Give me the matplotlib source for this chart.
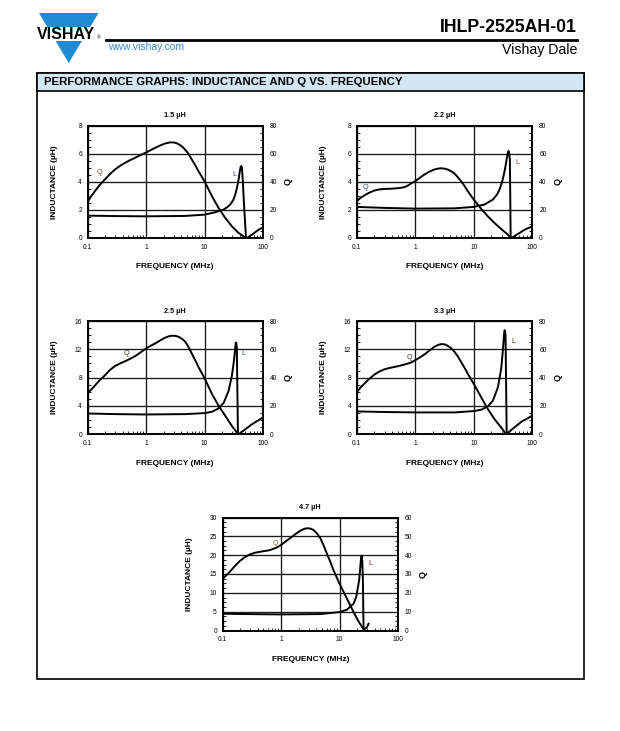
import matplotlib
matplotlib.use("Agg")
import matplotlib.pyplot as plt
from matplotlib.patches import Polygon, Rectangle
from matplotlib.lines import Line2D
from matplotlib.ticker import LogLocator, MultipleLocator, NullFormatter, FixedLocator, FixedFormatter

plt.rcParams['font.family'] = ['Liberation Sans', 'DejaVu Sans']

# ---------------- data ----------------
TITLES = ["1.5 µH", "2.2 µH", "2.5 µH", "3.3 µH", "4.7 µH"]
L_MAX = [8, 8, 16, 16, 30]
L_STEP = [2, 2, 4, 4, 5]
Q_MAX = [80, 80, 80, 80, 60]
Q_STEP = [20, 20, 20, 20, 10]
X_TICKS = [0.1, 1, 10, 100]
X_TICK_LABELS = ["0.1", "1", "10", "100"]

# 1.5 uH
Q15_F = [0.1, 0.115, 0.134, 0.16, 0.198, 0.24, 0.294, 0.36, 0.436, 0.53, 0.648, 0.8, 1.0, 1.2, 1.43, 1.75, 2.12, 2.58, 3.0, 3.35, 3.85, 4.37, 5.2, 6.07, 7.0, 7.89, 10, 13.4, 17.4, 22.6, 29.4, 38.3, 48.5, 53.2, 64.8, 84.3, 100]
Q15 = [25.5, 29.5, 33.3, 37.5, 41.6, 45.3, 48.7, 51.3, 53.4, 55.3, 57.0, 58.9, 60.8, 62.5, 64.1, 65.8, 67.2, 68.0, 67.9, 67.4, 66.0, 64.1, 60.5, 55.8, 51.5, 47.5, 40.4, 29.7, 21.4, 14.3, 8.3, 3.6, 0.7, 0.0, 2.4, 5.9, 7.6]
L15_F = [0.1, 0.3, 1.0, 4.7, 10, 15.2, 21.2, 25, 27.5, 31, 33.6, 36, 38.3, 40, 41.4, 42.5, 43.7, 45.5, 47.2, 51.2]
L15 = [1.59, 1.56, 1.54, 1.57, 1.66, 1.83, 2.02, 2.22, 2.38, 2.7, 3.09, 3.6, 4.16, 4.7, 5.05, 5.12, 5.0, 3.8, 2.5, 0.0]

# 2.2 uH
Q22_F = [0.1, 0.115, 0.134, 0.16, 0.198, 0.24, 0.294, 0.36, 0.436, 0.53, 0.648, 0.75, 0.843, 1.0, 1.2, 1.43, 1.75, 2.12, 2.5, 2.78, 3.2, 3.58, 4.1, 4.7, 5.3, 6.07, 7.0, 7.89, 10, 13.4, 17.4, 22.6, 29.4, 38.3, 43.8, 57, 74, 100]
Q22 = [26.1, 28.4, 30.2, 32.0, 33.7, 34.5, 34.9, 35.0, 35.2, 35.5, 36.1, 37.3, 38.7, 40.4, 42.8, 45.1, 47.2, 48.7, 49.4, 49.6, 49.3, 48.7, 47.5, 45.8, 43.4, 40.4, 36.8, 33.3, 27.3, 20.7, 15.4, 10.7, 6.4, 2.4, 0.0, 2.9, 5.9, 8.3]
L22_F = [0.1, 0.3, 1.0, 4.7, 10, 15.2, 21.2, 25, 27.5, 31, 33.6, 35.5, 37.3, 38.5, 39.4, 40.3, 41.4, 42.7]
L22 = [2.21, 2.14, 2.09, 2.11, 2.21, 2.38, 2.73, 3.1, 3.44, 4.1, 4.75, 5.3, 5.82, 6.1, 6.18, 6.0, 5.6, 0.0]

# 2.5 uH
Q25_F = [0.1, 0.115, 0.134, 0.16, 0.198, 0.24, 0.294, 0.36, 0.436, 0.53, 0.648, 0.8, 1.0, 1.2, 1.43, 1.75, 2.12, 2.5, 2.8, 3.2, 3.58, 4.1, 4.7, 5.3, 6.07, 7.0, 7.89, 10, 13.4, 17.4, 22.6, 29.4, 35.7, 38.3, 50, 64.8, 100]
Q25 = [28.5, 31.5, 34.4, 38.0, 41.6, 45.3, 48.2, 50.0, 51.5, 53.2, 55.1, 57.7, 60.6, 62.5, 64.1, 66.3, 68.2, 69.3, 69.6, 69.5, 68.9, 67.5, 65.3, 61.8, 57.0, 52.0, 47.5, 39.7, 28.5, 20.2, 13.1, 5.9, 1.2, 0.0, 3.6, 7.1, 11.9]
L25_F = [0.1, 0.3, 1.0, 4.7, 10, 13.4, 17.4, 21.2, 25.9, 29.4, 31.2, 32.6, 33.6, 34.3, 35.0, 35.7, 37.3]
L25 = [2.94, 2.85, 2.8, 2.85, 2.99, 3.18, 3.66, 4.42, 6.17, 8.31, 9.8, 11.16, 12.3, 12.96, 12.9, 12.1, 0.0]

# 3.3 uH
Q33_F = [0.1, 0.115, 0.134, 0.16, 0.198, 0.24, 0.294, 0.36, 0.436, 0.53, 0.648, 0.843, 1.0, 1.2, 1.43, 1.75, 2.12, 2.5, 2.8, 3.2, 3.58, 4.1, 4.7, 5.3, 6.07, 7.0, 7.89, 10, 13.4, 17.4, 22.6, 29.4, 35.7, 46.6, 64.8, 100]
Q33 = [29.7, 32.8, 35.6, 38.8, 42.0, 44.2, 45.8, 46.8, 47.5, 48.3, 49.2, 50.6, 52.3, 54.3, 56.3, 59.2, 61.8, 63.2, 63.7, 63.5, 62.5, 60.8, 58.2, 55.2, 51.1, 46.8, 42.8, 35.6, 26.1, 17.8, 10.7, 4.8, 0.0, 4.0, 8.8, 13.1]
L33_F = [0.1, 0.3, 1.0, 4.7, 10, 13.4, 17.4, 21.2, 25.9, 29.4, 31.0, 31.9, 33.0, 33.6, 34.3, 34.9, 36.5]
L33 = [3.23, 3.15, 3.09, 3.09, 3.28, 3.47, 3.94, 4.75, 6.65, 9.26, 11.3, 12.58, 14.2, 14.7, 14.6, 14.0, 0.0]

# 4.7 uH
Q47_F = [0.1, 0.115, 0.134, 0.16, 0.198, 0.24, 0.294, 0.36, 0.436, 0.53, 0.648, 0.843, 1.0, 1.2, 1.43, 1.75, 2.12, 2.5, 2.8, 3.2, 3.58, 4.1, 4.7, 5.3, 6.07, 7.0, 7.89, 10, 13.4, 17.4, 21.2, 25.1, 26.5, 29.4, 31.4]
Q47 = [27.2, 29.3, 31.2, 34.0, 36.9, 38.9, 40.4, 41.3, 41.8, 42.2, 42.7, 44.0, 45.4, 47.3, 49.0, 51.1, 52.9, 54.0, 54.3, 54.1, 53.4, 51.6, 49.0, 45.5, 40.9, 36.3, 32.0, 24.9, 16.9, 9.8, 4.8, 1.2, 0.5, 1.8, 3.6]
L47_F = [0.1, 0.3, 1.0, 4.7, 10, 13.4, 17.4, 19.3, 21.7, 22.6, 23.3, 23.9, 24.5, 25.1, 25.8]
L47 = [4.45, 4.35, 4.27, 4.36, 4.9, 5.52, 7.12, 8.9, 13.4, 16.5, 19.1, 19.8, 18.5, 13.8, 0.0]

Q_F = [Q15_F, Q22_F, Q25_F, Q33_F, Q47_F]
Q_V = [Q15, Q22, Q25, Q33, Q47]
L_F = [L15_F, L22_F, L25_F, L33_F, L47_F]
L_V = [L15, L22, L25, L33, L47]

# ---------------- layout / style ----------------
W, H = 620, 731
fig = plt.figure(figsize=(W / 100, H / 100), dpi=100)
fig.patch.set_facecolor('white')

def rect(l, t, r, b):
    return [l / W, 1 - b / H, (r - l) / W, (b - t) / H]

AX_BOXES = [(87.5, 125.5, 263, 238), (356.7, 125.5, 532.3, 238),
            (87.5, 321, 263, 434.3), (356.7, 321, 532.3, 434.3),
            (222.5, 517.5, 398, 630.5)]
Q_LABEL_POS = [(0.163, 4.63), (0.143, 3.56), (0.466, 11.4), (0.789, 10.8), (0.789, 23.2)]
L_LABEL_POS = [(32.3, 4.5), (54.6, 5.39), (46.7, 11.4), (47.2, 13.06), (33.6, 17.8)]
Q_COL = ['#8a4a1a', '#2a4a8a', '#4a3020', '#4a3020', '#a0561a']
L_COL = ['#2a4a8a', '#8a4a1a', '#2a4a8a', '#4a3020', '#8a2a2a']

TICK_FS = 4.8
LAB_FS = 6.0
GRID_C = '#1a1a1a'

for i, box in enumerate(AX_BOXES):
    ax = fig.add_axes(rect(*box))
    ax.set_xscale('log')
    ax.set_xlim(0.1, 100)
    ax.set_ylim(0, L_MAX[i])
    ax.xaxis.set_major_locator(FixedLocator(X_TICKS))
    ax.xaxis.set_major_formatter(FixedFormatter(X_TICK_LABELS))
    ax.xaxis.set_minor_locator(LogLocator(base=10, subs=range(2, 10)))
    ax.xaxis.set_minor_formatter(NullFormatter())
    ax.yaxis.set_major_locator(MultipleLocator(L_STEP[i]))
    ax.yaxis.set_minor_locator(MultipleLocator(L_STEP[i] / 4))
    ax.grid(True, which='major', color=GRID_C, lw=0.95)
    ax.set_axisbelow(True)
    for s in ax.spines.values():
        s.set_linewidth(1.2)
        s.set_color('black')
    ax.tick_params(which='major', direction='in', length=0, labelsize=TICK_FS, pad=4)
    ax.tick_params(which='minor', direction='in', length=2.2, width=0.6)
    ax.tick_params(axis='y', which='minor', left=True, right=False)
    ax.tick_params(axis='x', which='minor', top=False)

    ax2 = ax.twinx()
    ax2.set_ylim(0, Q_MAX[i])
    ax2.yaxis.set_major_locator(MultipleLocator(Q_STEP[i]))
    ax2.yaxis.set_minor_locator(MultipleLocator(Q_STEP[i] / 4))
    ax2.tick_params(which='major', direction='in', length=0, labelsize=TICK_FS, pad=5)
    ax2.tick_params(which='minor', direction='in', length=2.2, width=0.6)
    for s in ax2.spines.values():
        s.set_linewidth(1.2)

    ax.plot(L_F[i], L_V[i], color='black', lw=1.4, solid_joinstyle='round', clip_on=True, zorder=3)
    ax2.plot(Q_F[i], Q_V[i], color='black', lw=1.4, solid_joinstyle='round', clip_on=True, zorder=3)

    ax.text(*Q_LABEL_POS[i], "Q", fontsize=5.2, color=Q_COL[i], ha='center', va='center', zorder=4)
    ax.text(*L_LABEL_POS[i], "L", fontsize=5.2, color=L_COL[i], ha='center', va='center', zorder=4)

    ax.set_ylabel("INDUCTANCE (µH)", fontsize=LAB_FS, fontweight='bold')
    ax.yaxis.set_label_coords(-0.168, 0.5)
    ax.set_xlabel("FREQUENCY (MHz)", fontsize=LAB_FS, fontweight='bold')
    ax.xaxis.set_label_coords(0.5, -0.225)
    ax2.set_ylabel("Q", fontsize=LAB_FS + 0.5, fontweight='bold', rotation=90)
    ax2.yaxis.set_label_coords(1.12, 0.5)
    ax.text(0.5, 1.085, TITLES[i], transform=ax.transAxes, fontsize=5.2, fontweight='bold',
            ha='center', va='center')

# ---------------- page decoration ----------------
ov = fig.add_axes([0, 0, 1, 1], zorder=-1)
ov.set_xlim(0, W)
ov.set_ylim(H, 0)
ov.axis('off')

# frame and title bar
ov.add_patch(Rectangle((37, 73), 547, 606, fill=False, ec='black', lw=1.2))
ov.add_patch(Rectangle((37, 73), 547, 18, fc='#d3e6f4', ec='black', lw=1.2))
ov.text(44, 82.3, "PERFORMANCE GRAPHS: INDUCTANCE AND Q VS. FREQUENCY", fontsize=8.2,
        fontweight='bold', ha='left', va='center')

# logo
blue = '#1f8bd2'
ov.add_patch(Polygon([(39, 13), (98.5, 13), (90.2, 27), (47.3, 27)], closed=True, fc=blue, ec='none'))
ov.add_patch(Polygon([(55.6, 41), (81.9, 41), (68.7, 63)], closed=True, fc=blue, ec='none'))
ov.text(66.5, 34.3, "VISHAY", fontsize=11.5, fontweight='bold', ha='center', va='center')
ov.text(97, 37.5, "®", fontsize=3.5, ha='left', va='center')

# header
ov.add_line(Line2D([106, 577], [40, 40], color='black', lw=2.0))
ov.text(577, 28, "IHLP-2525AH-01", fontsize=12.7, fontweight='bold', ha='right', va='center')
ov.text(577, 50, "Vishay Dale", fontsize=10.2, ha='right', va='center')
ov.text(108, 46.5, "www.vishay.com", fontsize=7.5, color='#3d86c6', ha='left', va='center')

fig.savefig("out.png", dpi=100, facecolor='white')
